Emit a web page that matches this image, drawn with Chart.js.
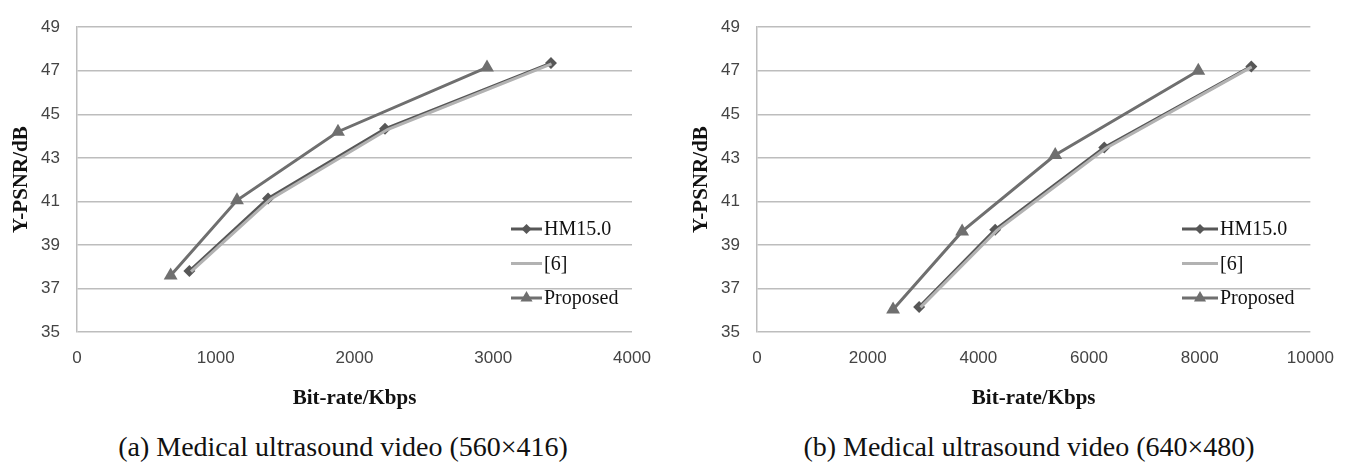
<!DOCTYPE html>
<html lang="en">
<head>
<meta charset="UTF-8">
<title>Y-PSNR vs Bit-rate</title>
<script src="https://cdn.jsdelivr.net/npm/chart.js"></script>
<style>
    body {
        margin: 0;
        background: #fff;
        width: 1350px;
        height: 469px;
        position: relative;
        overflow: hidden;
    }
    .box {
        position: absolute;
        top: 0;
        height: 420px;
    }
    #boxA { left: 0; width: 680px; }
    #boxB { left: 680px; width: 670px; }
    .cap {
        position: absolute;
        top: 431px;
        line-height: 32px;
        font-family: "Liberation Serif", "Times New Roman", serif;
        font-size: 28px;
        color: #111;
        white-space: nowrap;
        transform: translateX(-50%);
    }
</style>
</head>
<body>
<div class="box" id="boxA"><canvas id="chartA"></canvas></div>
<div class="box" id="boxB"><canvas id="chartB"></canvas></div>
<div class="cap" style="left:343px">(a) Medical ultrasound video (560×416)</div>
<div class="cap" style="left:1029px">(b) Medical ultrasound video (640×480)</div>

<script>
    // (a) 560x416
    const rateA_hm   = [810, 1377, 2220, 3416];
    const psnrA_hm   = [37.8, 41.13, 44.33, 47.35];
    const rateA_ref  = [822, 1395, 2238, 3420];
    const psnrA_ref  = [37.77, 41.1, 44.3, 47.32];
    const rateA_prop = [675, 1153, 1881, 2955];
    const psnrA_prop = [37.6, 41.05, 44.2, 47.15];

    // (b) 640x480
    const rateB_hm   = [2930, 4304, 6275, 8933];
    const psnrB_hm   = [36.15, 39.7, 43.47, 47.2];
    const rateB_ref  = [2955, 4335, 6305, 8940];
    const psnrB_ref  = [36.13, 39.67, 43.44, 47.18];
    const rateB_prop = [2459, 3707, 5389, 7975];
    const psnrB_prop = [36.03, 39.62, 43.13, 47.0];

    const seriesNames = ['HM15.0', '[6]', 'Proposed'];
    const yTicks = [35, 37, 39, 41, 43, 45, 47, 49];

    const darkGray = '#575757';
    const lightGray = '#b2b2b2';
    const midGray = '#6f6f6f';
    const gridGray = '#bdbdbd';

    const pts = (xs, ys) => xs.map((x, i) => ({ x: x, y: ys[i] }));

    // legend drawn inside the plot area, Excel style
    const inLegend = {
        id: 'inLegend',
        afterDraw(chart, args, opts) {
            const ctx = chart.ctx;
            ctx.save();
            chart.data.datasets.forEach((ds, i) => {
                const y = opts.top + i * opts.gap;
                ctx.strokeStyle = ds.borderColor;
                ctx.lineWidth = ds.borderWidth;
                ctx.beginPath();
                ctx.moveTo(opts.left, y);
                ctx.lineTo(opts.left + opts.len, y);
                ctx.stroke();
                if (ds.pointRadius > 0) {
                    ctx.fillStyle = ds.pointBackgroundColor;
                    Chart.helpers.drawPoint(ctx, {
                        pointStyle: ds.pointStyle,
                        radius: ds.pointRadius - 1,
                        rotation: 0,
                        borderWidth: 0
                    }, opts.left + opts.len / 2, y);
                }
                ctx.fillStyle = '#111';
                ctx.font = '20px "Liberation Serif", "Times New Roman", serif';
                ctx.textBaseline = 'middle';
                ctx.textAlign = 'left';
                ctx.fillText(ds.label, opts.left + opts.len + 2, y + 1);
            });
            ctx.restore();
        }
    };

    function makeChart(id, hm, ref, prop, xMax, xStep, rightPad, legendPos) {
        return new Chart(document.getElementById(id), {
            type: 'line',
            data: {
                datasets: [{
                    label: seriesNames[0],
                    data: hm,
                    borderColor: darkGray,
                    backgroundColor: darkGray,
                    pointBackgroundColor: darkGray,
                    borderWidth: 3,
                    pointStyle: 'rectRot',
                    pointRadius: 6,
                    pointBorderWidth: 0,
                    order: 3
                }, {
                    label: seriesNames[1],
                    data: ref,
                    borderColor: lightGray,
                    backgroundColor: lightGray,
                    borderWidth: 3,
                    pointRadius: 0,
                    order: 2
                }, {
                    label: seriesNames[2],
                    data: prop,
                    borderColor: midGray,
                    backgroundColor: midGray,
                    pointBackgroundColor: midGray,
                    borderWidth: 3,
                    pointStyle: 'triangle',
                    pointRadius: 8,
                    pointBorderWidth: 0,
                    order: 1
                }]
            },
            options: {
                responsive: true,
                maintainAspectRatio: false,
                animation: false,
                layout: { padding: { top: 15, right: rightPad, left: 0, bottom: 0 } },
                plugins: {
                    legend: { display: false },
                    tooltip: { enabled: false },
                    inLegend: legendPos
                },
                scales: {
                    x: {
                        type: 'linear',
                        min: 0,
                        max: xMax,
                        grid: { display: false, drawTicks: false },
                        border: { display: false },
                        ticks: {
                            stepSize: xStep,
                            padding: 16,
                            color: '#444',
                            font: { family: '"Liberation Sans", Arial, sans-serif', size: 17 },
                            callback: v => String(v)
                        },
                        title: {
                            display: true,
                            text: 'Bit-rate/Kbps',
                            color: '#111',
                            padding: { top: 0, bottom: 9 },
                            font: { family: '"Liberation Serif", "Times New Roman", serif', size: 21, weight: 'bold' }
                        },
                        afterFit(s) { s.height = 88; }
                    },
                    y: {
                        min: 35,
                        max: 49,
                        afterBuildTicks(s) { s.ticks = yTicks.map(v => ({ value: v })); },
                        grid: { color: gridGray, lineWidth: 1.5, drawTicks: false },
                        border: { display: true, color: gridGray, width: 1.5 },
                        ticks: {
                            padding: 17,
                            color: '#444',
                            font: { family: '"Liberation Sans", Arial, sans-serif', size: 17 },
                            callback: v => String(v)
                        },
                        title: {
                            display: true,
                            text: 'Y-PSNR/dB',
                            color: '#111',
                            padding: { top: 9, bottom: 0 },
                            font: { family: '"Liberation Serif", "Times New Roman", serif', size: 21, weight: 'bold' }
                        },
                        afterFit(s) { s.width = 77; }
                    }
                }
            },
            plugins: [inLegend]
        });
    }

    makeChart('chartA',
        pts(rateA_hm, psnrA_hm), pts(rateA_ref, psnrA_ref), pts(rateA_prop, psnrA_prop),
        4000, 1000, 48, { left: 511, len: 31, top: 229, gap: 34.5 });

    makeChart('chartB',
        pts(rateB_hm, psnrB_hm), pts(rateB_ref, psnrB_ref), pts(rateB_prop, psnrB_prop),
        10000, 2000, 38, { left: 502, len: 36, top: 229, gap: 34.5 });
</script>
</body>
</html>
